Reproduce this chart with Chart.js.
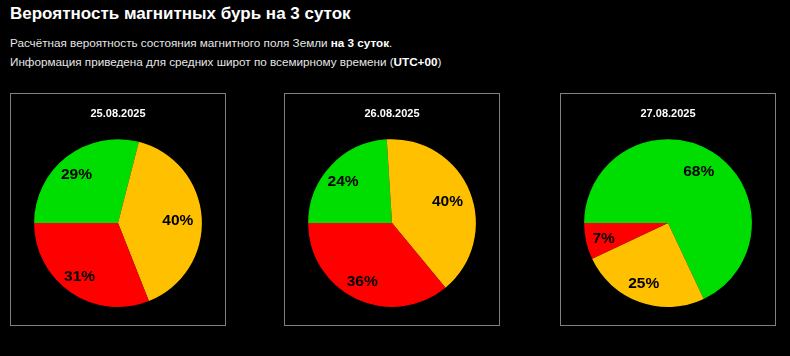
<!DOCTYPE html>
<html>
<head>
<meta charset="utf-8">
<script src="https://cdn.jsdelivr.net/npm/chart.js@4/dist/chart.umd.min.js"></script>
<style>
  html, body { margin:0; padding:0; background:#000; width:790px; height:356px; overflow:hidden; }
  body { position:relative; font-family:"Liberation Sans", Arial, sans-serif; }
  #title { position:absolute; left:10px; top:4px; color:#fff; font-weight:bold; font-size:17px; white-space:nowrap; }
  .sub { position:absolute; left:10px; color:#e6e6e6; font-size:11.7px; white-space:nowrap; }
  .sub b { color:#fff; }
  .box { position:absolute; top:93px; width:214px; height:231px; border:1px solid #808080; background:#000; }
  .box canvas { display:block; }
</style>
</head>
<body>
<div id="title">Вероятность магнитных бурь на 3 суток</div>
<div class="sub" style="top:36px">Расчётная вероятность состояния магнитного поля Земли <b>на 3 суток</b>.</div>
<div class="sub" style="top:55px">Информация приведена для средних широт по всемирному времени (<b>UTC+00</b>)</div>
<div class="box" style="left:10px"><canvas id="c0" width="214" height="231"></canvas></div>
<div class="box" style="left:284px"><canvas id="c1" width="214" height="231"></canvas></div>
<div class="box" style="left:560px"><canvas id="c2" width="214" height="231"></canvas></div>
<script>
const dates = ["25.08.2025", "26.08.2025", "27.08.2025"];
const categories = ["Спокойно", "Возмущение", "Буря"];
const greenValues = [29, 24, 68];
const yellowValues = [40, 40, 25];
const redValues = [31, 36, 7];
const sliceColors = ["#00dd00", "#ffc000", "#ff0000"];

const pctLabels = {
  id: "pctLabels",
  afterDatasetsDraw(chart) {
    const ctx = chart.ctx;
    const meta = chart.getDatasetMeta(0);
    const data = chart.data.datasets[0].data;
    ctx.save();
    ctx.font = "bold 15.5px 'Liberation Sans', Arial, sans-serif";
    ctx.fillStyle = "#000";
    ctx.textAlign = "center";
    ctx.textBaseline = "middle";
    meta.data.forEach((arc, i) => {
      const p = arc.getProps(["x", "y", "startAngle", "endAngle", "outerRadius"], true);
      const mid = (p.startAngle + p.endAngle) / 2;
      const r = p.outerRadius * 0.75;
      ctx.fillText(data[i] + "%", p.x + Math.cos(mid) * r - 3, p.y + Math.sin(mid) * r + 1.5);
    });
    ctx.restore();
  }
};

for (let i = 0; i < dates.length; i++) {
  new Chart(document.getElementById("c" + i), {
    type: "pie",
    data: {
      labels: categories,
      datasets: [{
        data: [greenValues[i], yellowValues[i], redValues[i]],
        backgroundColor: sliceColors,
        borderWidth: 0
      }]
    },
    options: {
      responsive: false,
      animation: false,
      rotation: -90,
      layout: { padding: { top: 0, bottom: 18, left: 0, right: 0 } },
      plugins: {
        legend: { display: false },
        tooltip: { enabled: false },
        title: {
          display: true,
          text: dates[i],
          color: "#ffffff",
          font: { family: "'Liberation Sans', Arial, sans-serif", size: 11, weight: "bold", lineHeight: 1.2 },
          padding: { top: 13, bottom: 19 }
        }
      }
    },
    plugins: [pctLabels]
  });
}
</script>
</body>
</html>
